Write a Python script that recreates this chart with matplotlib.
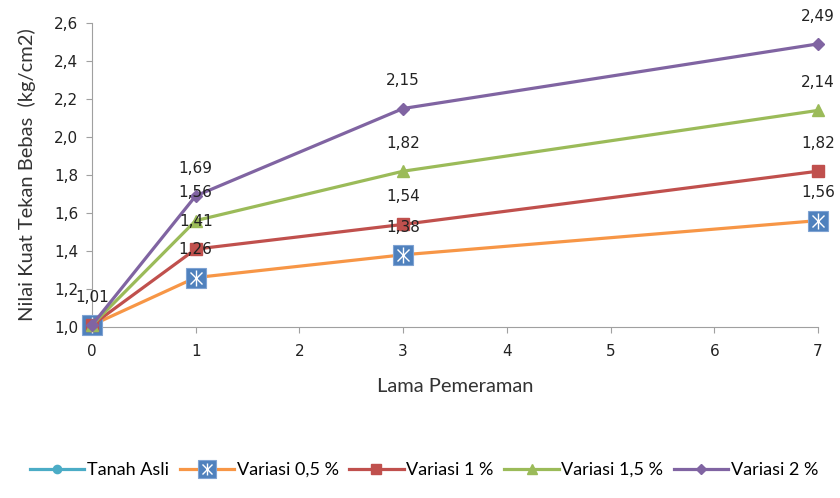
import numpy as np
import matplotlib.pyplot as plt
from matplotlib.legend_handler import HandlerTuple

# lama pemeraman (hari)
hari = [0, 1, 3, 7]

tanah_asli = [1.01]
variasi_05 = [1.01, 1.26, 1.38, 1.56]
variasi_1 = [1.01, 1.41, 1.54, 1.82]
variasi_15 = [1.01, 1.56, 1.82, 2.14]
variasi_2 = [1.01, 1.69, 2.15, 2.49]

y_ticks = [1.0, 1.2, 1.4, 1.6, 1.8, 2.0, 2.2, 2.4, 2.6]
x_ticks = [0, 1, 2, 3, 4, 5, 6, 7]

fig = plt.figure(figsize=(8.4, 4.98), dpi=100)
ax = fig.add_axes([0.1095, 0.3434, 0.8643, 0.6104])

lw = 2.3
h_asli, = ax.plot(hari[:1], tanah_asli, color='#4BACC6', lw=lw, marker='o',
                  ms=7, clip_on=False, zorder=3)
l05, = ax.plot(hari, variasi_05, color='#F79646', lw=lw, marker='s', ms=15,
               mfc='#4F81BD', mec='#7FA3D3', mew=0.8, clip_on=False, zorder=3)
s1, = ax.plot(hari, variasi_05, ls='none', marker='x', ms=8, mec='white',
              mew=1.0, clip_on=False, zorder=3.1)
s2, = ax.plot(hari, variasi_05, ls='none', marker='|', ms=11, mec='white',
              mew=1.0, clip_on=False, zorder=3.1)
l1, = ax.plot(hari, variasi_1, color='#C0504D', lw=lw, marker='s', ms=8.5,
              clip_on=False, zorder=4)
l15, = ax.plot(hari, variasi_15, color='#9BBB59', lw=lw, marker='^', ms=9,
               clip_on=False, zorder=5)
l2, = ax.plot(hari, variasi_2, color='#8064A2', lw=lw, marker='D', ms=6.5,
              clip_on=False, zorder=6)

# label nilai di atas titik (label yang bertumpuk cukup sekali)
sudah = set()
for seri in [tanah_asli, variasi_05, variasi_1, variasi_15, variasi_2]:
    for xv, yv in zip(hari, seri):
        if (xv, yv) in sudah:
            continue
        sudah.add((xv, yv))
        ax.annotate(f'{yv:.2f}'.replace('.', ','), (xv, yv),
                    xytext=(0, 20), textcoords='offset points',
                    ha='center', va='center', fontsize=11, color='#222222',
                    annotation_clip=False, zorder=10)

ax.set_xlim(0, 7)
ax.set_ylim(1.0, 2.6)
ax.set_xticks(x_ticks)
ax.set_yticks(y_ticks)
ax.set_yticklabels([f'{v:.1f}'.replace('.', ',') for v in y_ticks])
ax.tick_params(labelsize=11, colors='#222222', length=4, color='#A0A0A0')
ax.tick_params(axis='y', pad=6)
ax.tick_params(axis='x', pad=8)

for side in ['top', 'right']:
    ax.spines[side].set_visible(False)
for side in ['left', 'bottom']:
    ax.spines[side].set_color('#A0A0A0')

ax.set_xlabel('Lama Pemeraman', fontsize=14.5, family='Lato',
              color='#333333', labelpad=14)
ax.set_ylabel('Nilai Kuat Tekan Bebas  (kg/cm2)', fontsize=14.5,
              family='Lato', color='#333333', labelpad=13)

fig.legend([h_asli, (l05, s1, s2), l1, l15, l2],
           ['Tanah Asli', 'Variasi 0,5 %', 'Variasi 1 %', 'Variasi 1,5 %', 'Variasi 2 %'],
           handler_map={tuple: HandlerTuple(ndivide=1, pad=0)},
           loc='center', bbox_to_anchor=(0.505, 0.056), ncol=5, frameon=False,
           prop={'family': 'Lato', 'size': 13},
           handlelength=3.0, handletextpad=0.15, columnspacing=0.6,
           markerscale=0.85)

plt.savefig('out.png', dpi=100)
